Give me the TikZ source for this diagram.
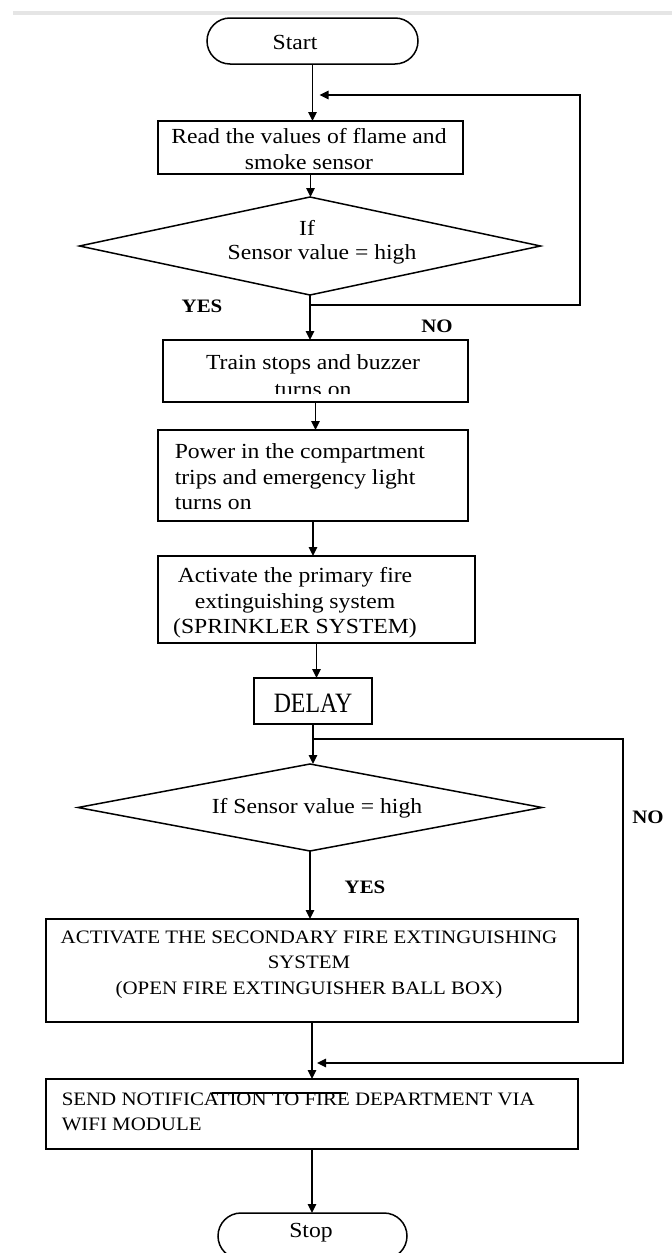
\documentclass[tikz,border=0pt]{standalone}
\usepackage{fontspec}
\setmainfont[FakeStretch=1.1]{Liberation Serif}
\newfontfamily\narrowserif[FakeStretch=0.85]{Liberation Serif}
\usetikzlibrary{arrows.meta,shapes.geometric}

\begin{document}
\begin{tikzpicture}[x=1pt,y=-1pt,
  line width=1.5pt,
  proc/.style={draw, rectangle, inner sep=0pt, outer sep=0pt},
  term/.style={draw, rectangle, rounded corners=23pt, inner sep=0pt, outer sep=0pt, minimum height=46pt},
  decision/.style={draw, diamond, inner sep=0pt, outer sep=0pt},
  lower/.style={font=\fontsize{21.5}{25.5}\selectfont, text=black, inner sep=0pt},
  upper/.style={font=\fontsize{19}{25.5}\selectfont, text=black, inner sep=0pt},
  answer/.style={font=\bfseries\fontsize{19}{22}\selectfont, text=black, inner sep=0pt},
  flow/.style={-{Triangle[length=9pt,width=8.5pt]}},
]
\useasboundingbox (0,0) rectangle (672,1253);
\clip (0,0) rectangle (672,1253);

% thin grey rule along the top edge
\fill[gray!20] (13,11) rectangle (672,15);

% ---- boxes ----
\node[term, minimum width=211pt] (start) at (312.5,41) {};
\node[lower] (starttext) at (295,42) {Start};

\node[proc, minimum width=305pt, minimum height=53pt] (read) at (310.5,147.5) {};
\node[lower, align=center] (readtext) at (309,149) {Read the values of flame and\\smoke sensor};

\node[decision, minimum width=461pt, minimum height=98pt] (d1) at (310,246) {};
\node[lower] (d1if) at (307,228) {If};
\node[lower] (d1cond) at (322,254) {Sensor value = high};

\node[proc, minimum width=305pt, minimum height=62pt] (train) at (315.5,371) {};
\begin{scope}
  % the second line runs past the bottom margin of the box and is cut off
  \clip ([yshift=-1pt]train.north west) rectangle ([yshift=9pt]train.south east);
  \node[lower, align=center, font=\fontsize{21.5}{27}\selectfont] (traintext) at (313,375.5) {Train stops and buzzer\\turns on};
\end{scope}

\node[proc, minimum width=310pt, minimum height=91pt] (power) at (313,475.5) {};
\node[lower, align=left, anchor=west] (powertext) at (174,477) {Power in the compartment\\trips and emergency light\\turns on};

\node[proc, minimum width=317pt, minimum height=87pt] (prim) at (316.5,599.5) {};
\node[lower, align=center] (primtext) at (295,603) {Activate the primary fire\\extinguishing system\\(SPRINKLER SYSTEM)};

\node[proc, minimum width=118pt, minimum height=46pt] (delay) at (313,701) {};
\node[font=\narrowserif\fontsize{28}{30}\selectfont, text=black, inner sep=0pt] (delaytext) at (313,703) {DELAY};

\node[decision, minimum width=464pt, minimum height=87pt] (d2) at (310,807.5) {};
\node[lower] (d2text) at (317,808) {If Sensor value = high};

\node[proc, minimum width=532pt, minimum height=103pt] (second) at (312,970.5) {};
\node[upper, align=center] (secondtext) at (309,964.5) {ACTIVATE THE SECONDARY FIRE EXTINGUISHING\\SYSTEM\\(OPEN FIRE EXTINGUISHER BALL BOX)};

\node[proc, minimum width=532pt, minimum height=70pt] (send) at (312,1114) {};
\node[upper, align=left, anchor=west] (sendtext) at (61,1112) {SEND NOTIFICATION TO FIRE DEPARTMENT VIA\\WIFI MODULE};
\draw[line width=1.2pt] (212,1093) -- (346,1093);

\node[term, minimum width=189pt] (stop) at (312.5,1236) {};
\node[lower] (stoptext) at (311,1233) {Stop};

% ---- branch labels ----
\node[answer] (yes1) at (202,306) {YES};
\node[answer] (no1) at (437,326) {NO};
\node[answer] (no2) at (648,817) {NO};
\node[answer] (yes2) at (365,887) {YES};

% ---- connectors ----
\draw[flow] (start.south) -- (start.south |- read.north);
\draw[flow] (read.south) -- (read.south |- d1.north);
\draw[flow] (d1.south) -- (d1.south |- train.north);
\draw[flow] (train.south) -- (train.south |- power.north);
\draw[flow] (power.south) -- (power.south |- prim.north);
\draw[flow] (prim.south) -- (prim.south |- delay.north);
\draw[flow] (delay.south) -- (delay.south |- d2.north);
\draw[flow] (d2.south) -- (d2.south |- second.north);
\draw[flow] (second.south) -- (second.south |- send.north);
\draw[flow] (send.south) -- (send.south |- stop.north);

% "NO" return loops
\coordinate (j1) at (d1.south |- 0,305);
\coordinate (loop1b) at (580,305);
\coordinate (loop1t) at (580,95);
\coordinate (m1) at (start.south |- 0,95);
\draw[flow, shorten >=7pt] (j1) -- (loop1b) -- (loop1t) -- (m1);

\coordinate (j2) at (delay.south |- 0,739);
\coordinate (loop2t) at (623,739);
\coordinate (loop2b) at (623,1063);
\coordinate (m2) at (second.south |- 0,1063);
\draw[flow, shorten >=5pt] (j2) -- (loop2t) -- (loop2b) -- (m2);
\end{tikzpicture}
\end{document}
